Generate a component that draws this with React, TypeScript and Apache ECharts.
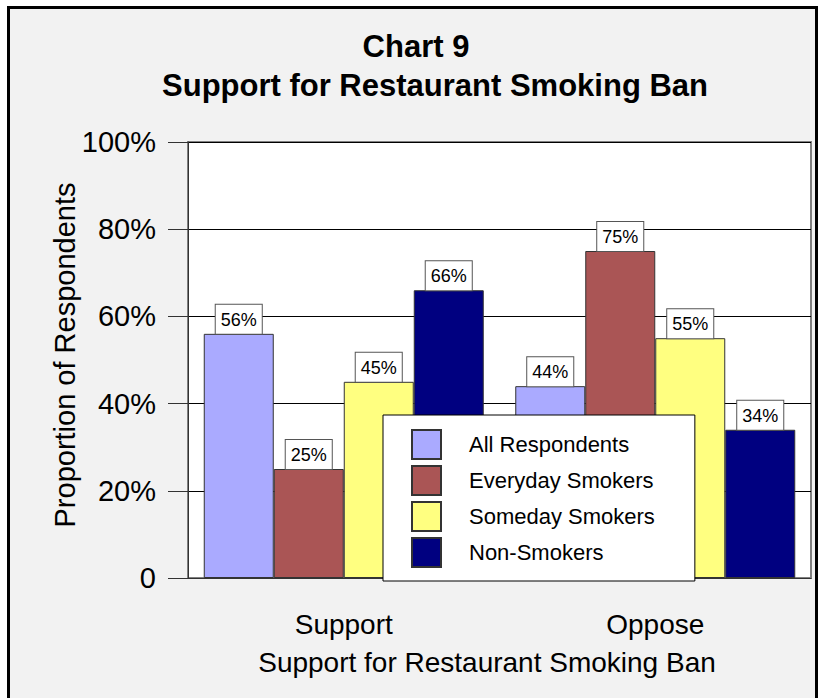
import React, { useEffect, useRef } from "react";
import * as echarts from "echarts";

const categories = ["Support", "Oppose"];
const seriesNames = ["All Respondents", "Everyday Smokers", "Someday Smokers", "Non-Smokers"];
const allRespondents = [56, 44];
const everydaySmokers = [25, 75];
const somedaySmokers = [45, 55];
const nonSmokers = [66, 34];
const colors = ["#aaaaff", "#aa5555", "#ffff80", "#000080"];
const FONT = "'Liberation Sans', Arial, sans-serif";

export default function App() {
  const ref = useRef<HTMLDivElement>(null);
  useEffect(() => {
    document.body.style.margin = "0";
    const chart = echarts.init(ref.current!, null, { renderer: "svg" });
    const values = [allRespondents, everydaySmokers, somedaySmokers, nonSmokers];
    chart.setOption({
      animation: false,
      backgroundColor: "#ffffff",
      textStyle: { fontFamily: FONT },
      graphic: [
        {
          type: "rect",
          z: -10,
          silent: true,
          shape: { x: 8.5, y: 7.5, width: 808, height: 700 },
          style: { fill: "#f2f2f2", stroke: "#000", lineWidth: 3 },
        },
      ],
      title: [
        {
          text: "Chart 9",
          left: 416,
          top: 31,
          textAlign: "center",
          padding: 0,
          textStyle: { fontSize: 31, fontWeight: "bold", color: "#000", fontFamily: FONT },
        },
        {
          text: "Support for Restaurant Smoking Ban",
          left: 435,
          top: 70,
          textAlign: "center",
          padding: 0,
          textStyle: { fontSize: 31, fontWeight: "bold", color: "#000", fontFamily: FONT },
        },
      ],
      legend: {
        orient: "vertical",
        left: 383,
        top: 415,
        padding: [14, 40, 13, 28],
        itemWidth: 29,
        itemHeight: 29,
        itemGap: 5,
        backgroundColor: "#ffffff",
        borderColor: "#000",
        borderWidth: 1,
        icon: "rect",
        data: seriesNames,
        textStyle: {
          fontSize: 22,
          color: "#000",
          fontFamily: FONT,
          padding: [0, 0, 0, 23],
        },
        z: 10,
      },
      grid: {
        left: 188,
        top: 142,
        right: 9,
        bottom: 120,
        show: true,
        backgroundColor: "#ffffff",
        borderColor: "#808080",
        borderWidth: 2,
      },
      xAxis: {
        type: "category",
        data: categories,
        name: "Support for Restaurant Smoking Ban",
        nameLocation: "middle",
        nameGap: 70,
        nameMoveOverlap: false,
        nameTextStyle: { fontSize: 28, color: "#000", fontFamily: FONT, padding: [0, 25, 0, 0] },
        axisLine: { lineStyle: { color: "#333", width: 1 } },
        axisTick: { alignWithLabel: true, length: 25, lineStyle: { color: "#333" } },
        axisLabel: { fontSize: 28, color: "#000", margin: 32, fontFamily: FONT },
      },
      yAxis: {
        type: "value",
        min: 0,
        max: 100,
        interval: 20,
        name: "Proportion of Respondents",
        nameLocation: "middle",
        nameGap: 109,
        nameMoveOverlap: false,
        nameTextStyle: { fontSize: 29, color: "#000", fontFamily: FONT, padding: [0, 0, 0, 10] },
        axisLine: { show: true, lineStyle: { color: "#333", width: 1 } },
        axisTick: { show: true, length: 20, lineStyle: { color: "#333" } },
        axisLabel: {
          fontSize: 29,
          color: "#000",
          margin: 32,
          fontFamily: FONT,
          formatter: (v: number) => (v === 0 ? "0" : v + "%"),
        },
        splitLine: { lineStyle: { color: "#000", width: 1 } },
      },
      series: seriesNames.map((name, i) => ({
        name,
        type: "bar",
        data: values[i],
        barWidth: 70,
        barGap: "0%",
        itemStyle: { color: colors[i], borderColor: "#333", borderWidth: 1 },
        label: {
          show: true,
          position: "top",
          distance: 0,
          formatter: "{c}%",
          fontSize: 18,
          lineHeight: 20,
          color: "#000",
          fontFamily: FONT,
          backgroundColor: "#ffffff",
          borderColor: "#555",
          borderWidth: 1,
          padding: [5, 5, 4, 5],
        },
      })),
    });
    return () => chart.dispose();
  }, []);
  return <div ref={ref} style={{ width: 820, height: 698 }} />;
}
